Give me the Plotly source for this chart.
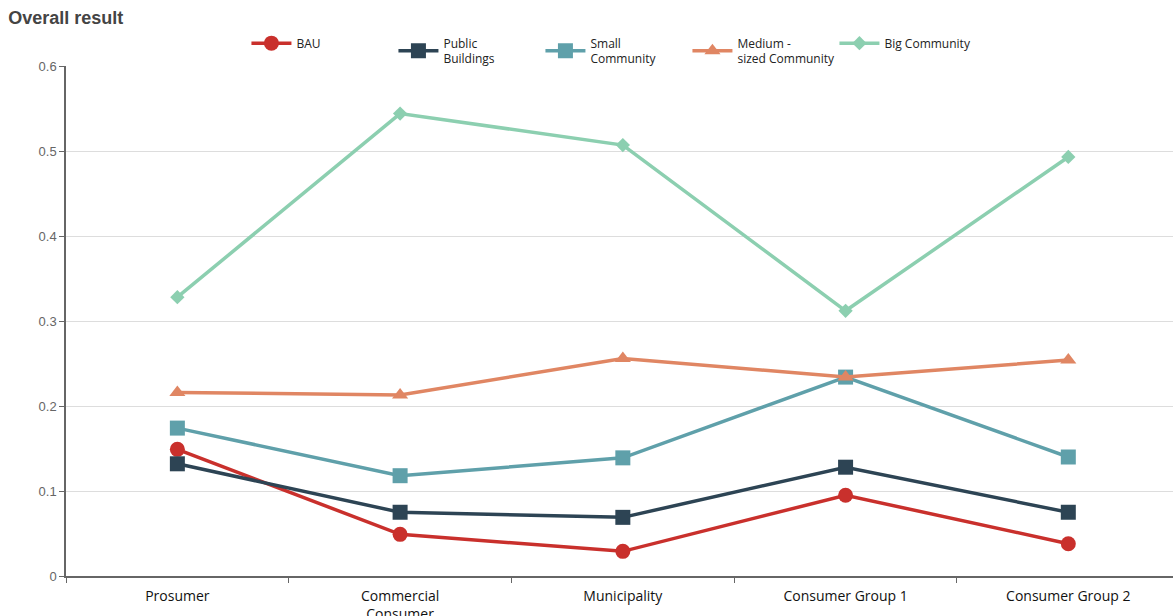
import plotly.graph_objects as go

categories = ["Prosumer", "Commercial<br>Consumer", "Municipality", "Consumer Group 1", "Consumer Group 2"]
series_names = ["BAU", "Public<br>Buildings", "Small<br>Community", "Medium -<br>sized Community", "Big Community"]
bau = [0.149, 0.049, 0.029, 0.095, 0.038]
public_buildings = [0.132, 0.075, 0.069, 0.128, 0.075]
small_community = [0.174, 0.118, 0.139, 0.234, 0.140]
medium_community = [0.216, 0.213, 0.256, 0.234, 0.254]
big_community = [0.328, 0.544, 0.507, 0.312, 0.493]

values = [bau, public_buildings, small_community, medium_community, big_community]
colors = ["#c9302c", "#2d4454", "#5fa0aa", "#e08663", "#8ccfb0"]
symbols = ["circle", "square", "square", "triangle-up", "diamond"]
sizes = [15, 15, 15, 14, 11]

fig = go.Figure()
for name, vals, c, s, sz in zip(series_names, values, colors, symbols, sizes):
    fig.add_trace(go.Scatter(
        x=categories, y=vals, name=name, mode="lines+markers",
        line=dict(color=c, width=3.5),
        marker=dict(symbol=s, size=sz, color=c),
    ))

fig.update_layout(
    width=1173, height=616,
    margin=dict(l=66, r=0, t=66, b=40, autoexpand=False),
    paper_bgcolor="white", plot_bgcolor="white",
    title=dict(text="<b>Overall result</b>", x=0.007, xanchor="left", y=0.972, yanchor="middle",
               font=dict(family="Liberation Sans, Arial", size=18, color="#444")),
    legend=dict(orientation="h", x=0.163, xanchor="left", y=0.985, yanchor="bottom",
                font=dict(family="Open Sans", size=12, color="#222"),
                itemwidth=40, entrywidth=92, tracegroupgap=0, bgcolor="rgba(0,0,0,0)"),
    showlegend=True,
)
fig.update_xaxes(
    type="category", range=[-0.5, 4.47], tickson="boundaries", ticks="outside", ticklen=5,
    tickcolor="#666", showline=True, linecolor="#666", linewidth=1.5, showgrid=False,
    ticklabelstandoff=6, automargin=False,
    tickfont=dict(family="Open Sans", size=14, color="#111"),
)
fig.update_yaxes(
    range=[0, 0.6], tickvals=[0, 0.1, 0.2, 0.3, 0.4, 0.5, 0.6],
    ticktext=["0", "0.1", "0.2", "0.3", "0.4", "0.5", "0.6"],
    ticks="outside", ticklen=5, tickcolor="#666", showline=True, linecolor="#666", linewidth=1.5,
    showgrid=True, gridcolor="#dddddd", gridwidth=1, zeroline=False, automargin=False,
    tickfont=dict(family="Liberation Sans, Arial", size=13, color="#666"),
)

fig.write_html("out.html")
